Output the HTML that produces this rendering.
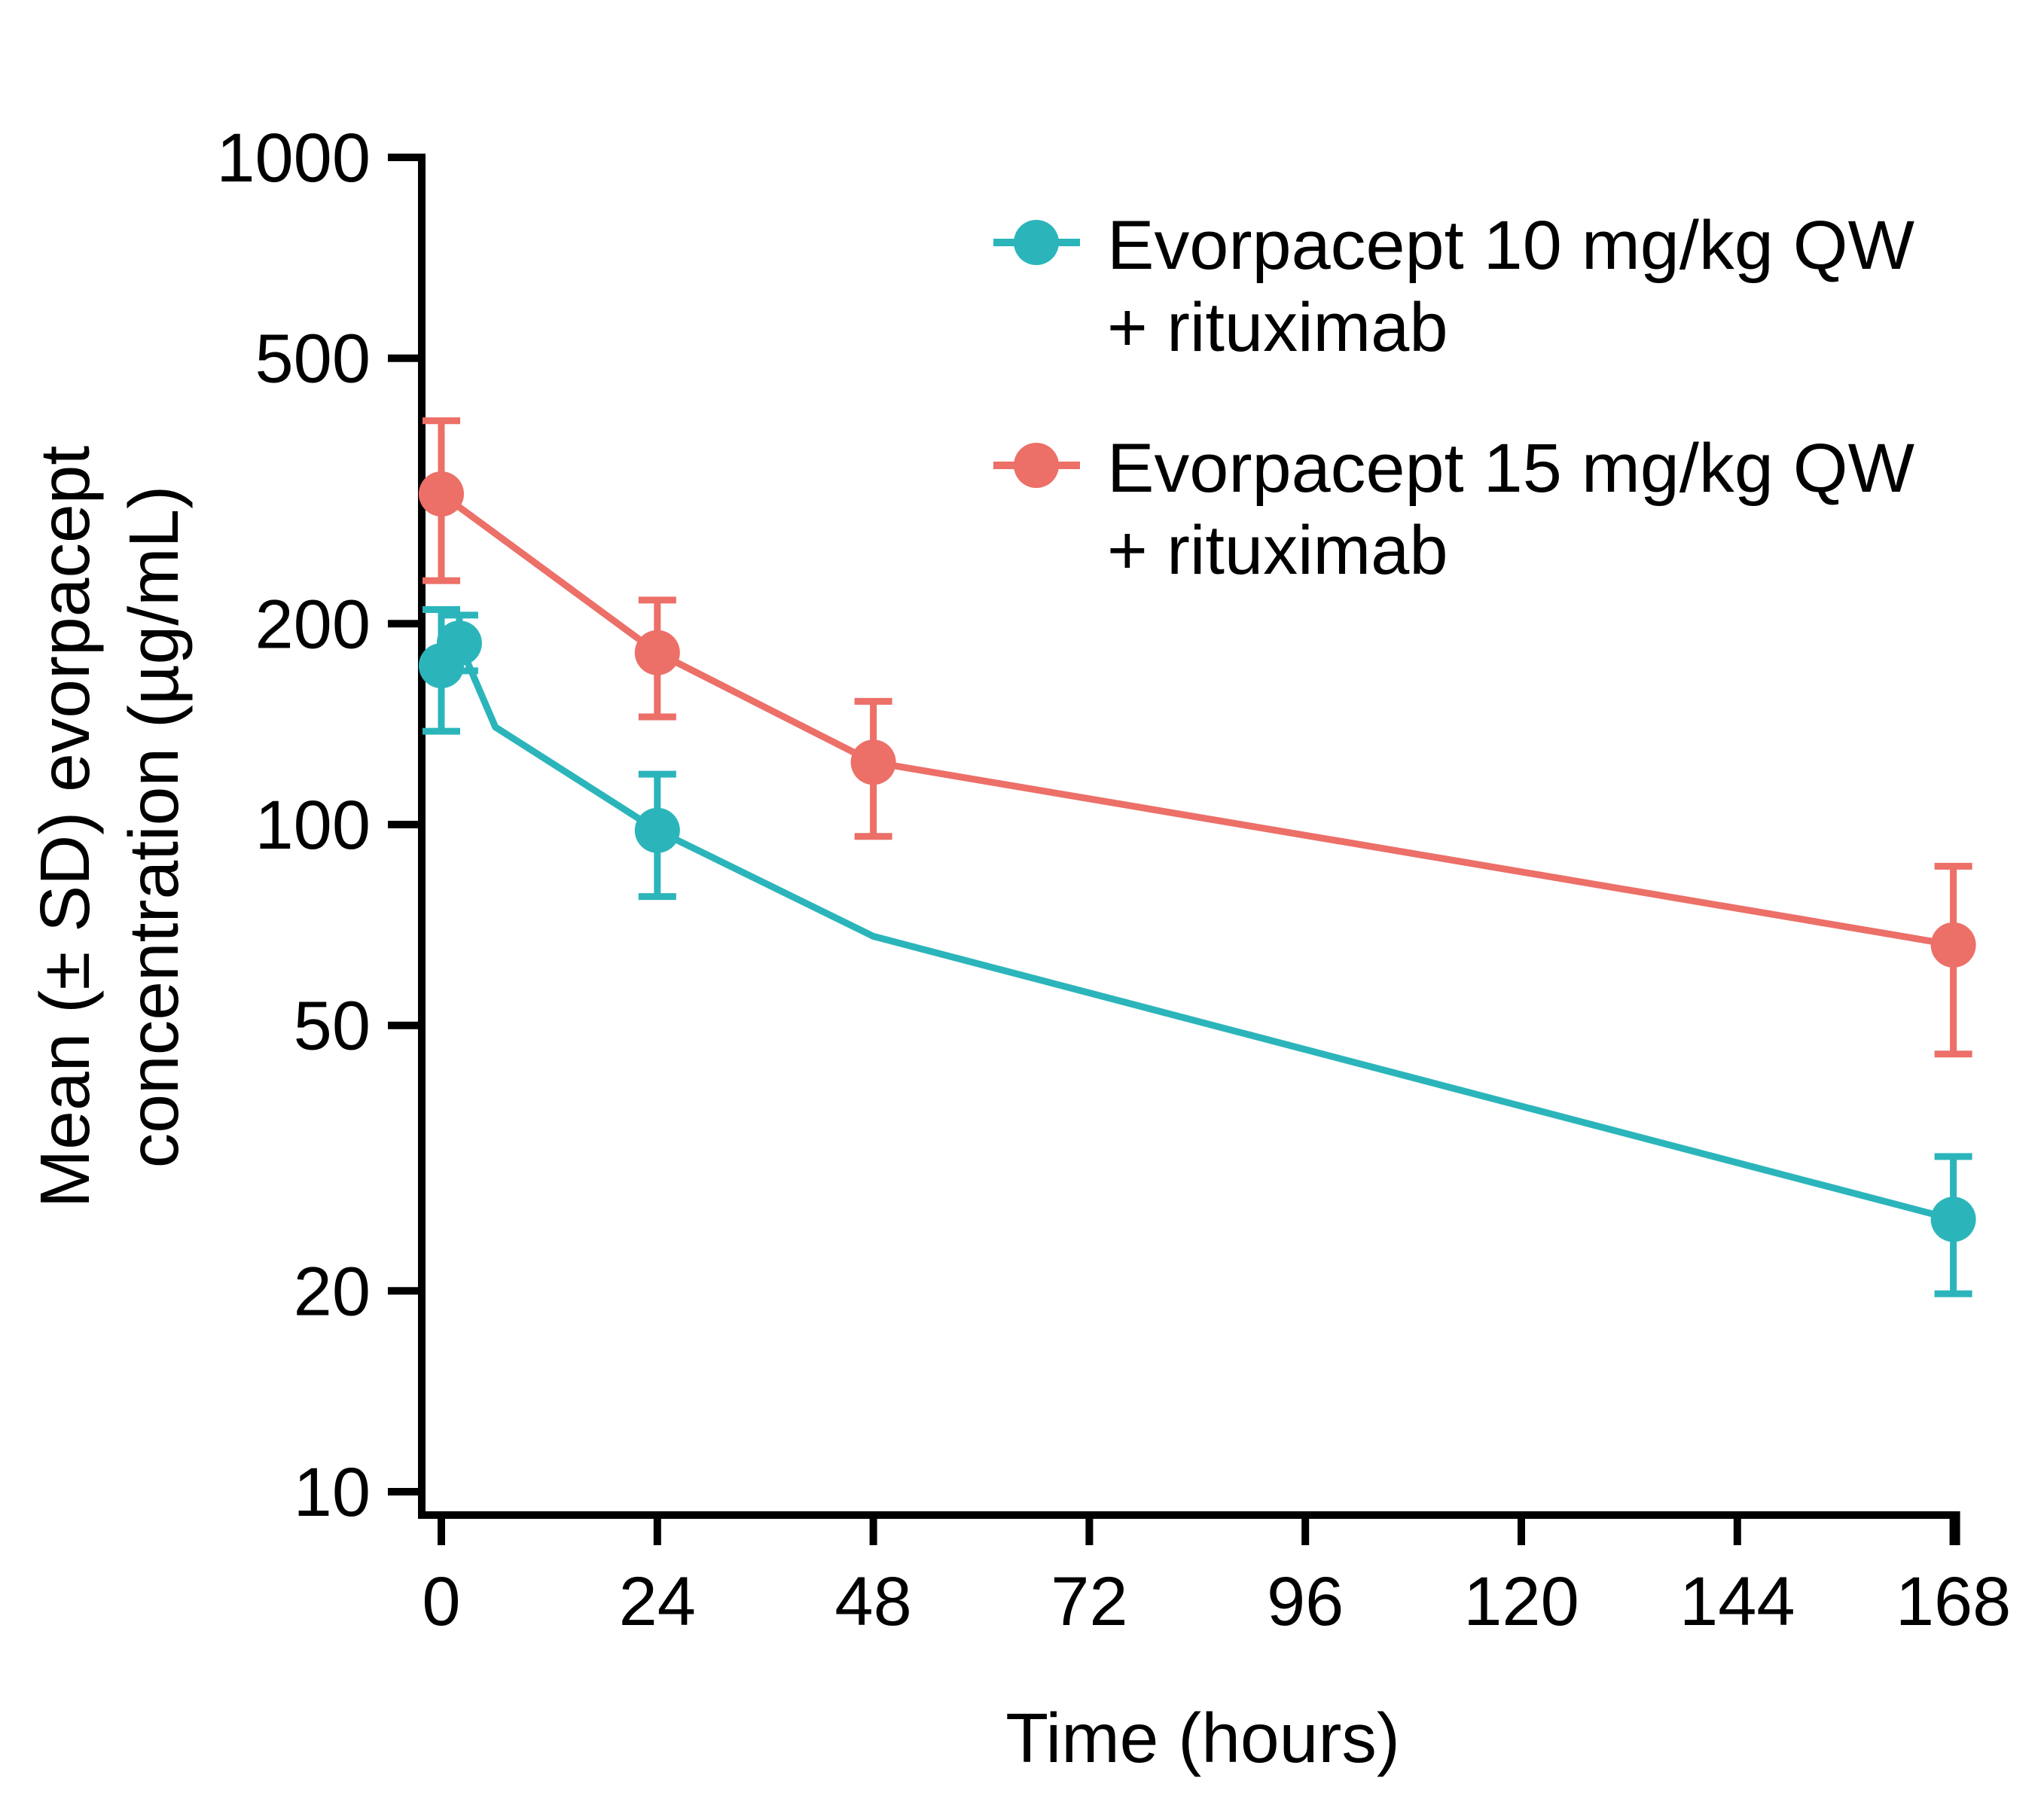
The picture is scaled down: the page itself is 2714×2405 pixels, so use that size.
<!DOCTYPE html>
<html><head><meta charset="utf-8"><style>
html,body{margin:0;padding:0;background:#fff;}
svg{display:block;font-family:"Liberation Sans",Arial,sans-serif;}
</style></head><body>
<svg id="chart" width="2714" height="2405" viewBox="0 0 2714 2405">
<g id="axes"></g>
<g id="series"></g>
<g id="legend"></g>
</svg>
<script>
const xTicks = [0, 24, 48, 72, 96, 120, 144, 168];
const yTicks = [10, 20, 50, 100, 200, 500, 1000];
const teal_t = [0, 2, 6, 24, 48, 168];
const teal_mean = [173, 187, 140, 98, 68, 25.6];
const teal_hi = [210, 206, null, 119, null, 31.8];
const teal_lo = [138, 170, null, 78, null, 19.8];
const teal_marker = [true, true, false, true, false, true];
const red_t = [0, 24, 48, 168];
const red_mean = [313, 181, 124, 66];
const red_hi = [403, 217, 153, 86.6];
const red_lo = [232, 145, 96, 45.3];
const red_marker = [true, true, true, true];

const NS = "http://www.w3.org/2000/svg";
const X0 = 586, XPH = 11.95;
const Y1000 = 209, DEC = 886;
function xs(t){ return X0 + t * XPH; }
function ys(v){ return Y1000 + (3 - Math.log10(v)) * DEC; }
function mk(tag, attrs, parent){
  const e = document.createElementNS(NS, tag);
  for (const k in attrs) e.setAttribute(k, attrs[k]);
  parent.appendChild(e);
  return e;
}
const axes = document.getElementById('axes');
const series = document.getElementById('series');
const legend = document.getElementById('legend');
const XEND = xs(168) + 4, YB = 2012;

const yAxis = mk('path', {d: `M517 209 H560 V${YB} H${XEND} V2052`, fill: 'none', stroke: '#000', 'stroke-width': 10}, axes);



yTicks.forEach(v => {
  const y = ys(v);
  const t = mk('line', {x1: 515, x2: 560, y1: y, y2: y, stroke: '#000', 'stroke-width': 10}, axes);
  
  
  const l = mk('text', {x: 492, y: y + 32, 'text-anchor': 'end', 'font-size': 92, fill: '#000'}, axes);
  l.textContent = v;
  
  
});
xTicks.forEach(v => {
  const x = xs(v);
  const t = mk('line', {x1: x, x2: x, y1: YB, y2: 2052, stroke: '#000', 'stroke-width': 10}, axes);
  
  
  const l = mk('text', {x: x, y: 2158, 'text-anchor': 'middle', 'font-size': 92, fill: '#000'}, axes);
  l.textContent = v;
  
  
});
const xt = mk('text', {x: 1597, y: 2340, 'text-anchor': 'middle', 'font-size': 93, fill: '#000'}, axes);
xt.textContent = 'Time (hours)';


const yt = mk('text', {transform: 'translate(118,1098) rotate(-90)', 'text-anchor': 'middle', 'font-size': 93, fill: '#000'}, axes);


const ys1 = mk('tspan', {x: 0, y: 0}, yt); ys1.textContent = 'Mean (± SD) evorpacept';
const ys2 = mk('tspan', {x: 0, dy: 118}, yt); ys2.textContent = 'concentration (µg/mL)';

function drawSeries(name, color, T, M, HI, LO, MK){
  const g = mk('g', {}, series);
  
  
  const d = T.map((t, i) => (i ? 'L' : 'M') + xs(t) + ' ' + ys(M[i])).join(' ');
  const p = mk('path', {d: d, fill: 'none', stroke: color, 'stroke-width': 9, 'stroke-linejoin': 'round'}, g);
  
  
  T.forEach((t, i) => {
    if (HI[i] != null) {
      const x = xs(t), y1 = ys(HI[i]), y2 = ys(LO[i]);
      const e = mk('path', {d: `M${x-25} ${y1} H${x+25} M${x} ${y1} V${y2} M${x-25} ${y2} H${x+25}`, stroke: color, 'stroke-width': 9, fill: 'none'}, g);
      
      
    }
  });
  T.forEach((t, i) => {
    if (MK[i]) {
      const c = mk('circle', {cx: xs(t), cy: ys(M[i]), r: 30, fill: color}, g);
      
      
    }
  });
}
drawSeries('red-15mgkg', '#ec6f68', red_t, red_mean, red_hi, red_lo, red_marker);
drawSeries('teal-10mgkg', '#2bb5bb', teal_t, teal_mean, teal_hi, teal_lo, teal_marker);

function legendEntry(name, color, cy, l1, l2){
  const g = mk('g', {}, legend);
  
  
  mk('line', {x1: 1319, x2: 1434, y1: cy, y2: cy, stroke: color, 'stroke-width': 10}, g);
  mk('circle', {cx: 1376, cy: cy, r: 30, fill: color}, g);
  const t1 = mk('text', {x: 1470, y: cy + 35, 'font-size': 92, fill: '#000', textLength: 1072, lengthAdjust: 'spacingAndGlyphs'}, g);
  t1.textContent = l1;
  const t2 = mk('text', {x: 1470, y: cy + 144, 'font-size': 92, fill: '#000'}, g);
  t2.textContent = l2;
}
legendEntry('legend-entry-10mgkg', '#2bb5bb', 322, 'Evorpacept 10 mg/kg QW', '+ rituximab');
legendEntry('legend-entry-15mgkg', '#ec6f68', 618, 'Evorpacept 15 mg/kg QW', '+ rituximab');
</script>
</body></html>
